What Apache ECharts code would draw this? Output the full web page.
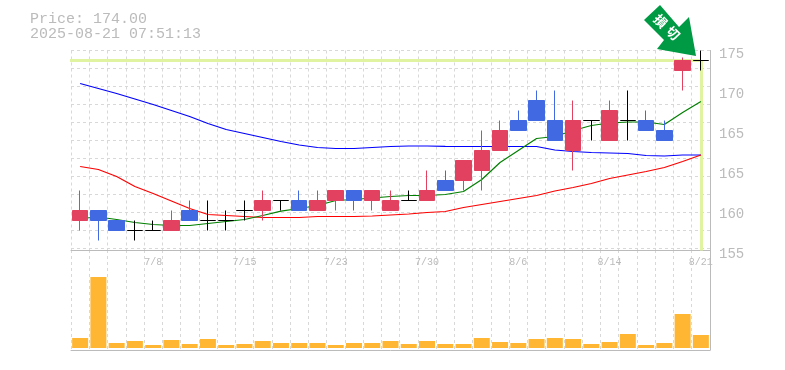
<!DOCTYPE html>
<html>
<head>
<meta charset="utf-8">
<style>html,body{margin:0;padding:0;background:#fff}#c{width:785px;height:370px}</style>
<script src="https://cdn.jsdelivr.net/npm/echarts@6/dist/echarts.min.js"></script>
</head>
<body>
<div id="c"></div>
<script>
const dates = ['7/2','7/3','7/4','7/7','7/8','7/9','7/10','7/11','7/14','7/15','7/16','7/17','7/18','7/22','7/23','7/24','7/25','7/28','7/29','7/30','7/31','8/1','8/4','8/5','8/6','8/7','8/8','8/12','8/13','8/14','8/15','8/18','8/19','8/20','8/21'];
const shownDates = ['7/8','7/15','7/23','7/30','8/6','8/14','8/21'];
const priceTickLabels = {155:'155',159:'160',163:'165',167:'165',171:'170',175:'175'};
const opens  = [158,159,158,157,157,157,159,158,158,159,159,160,160,159,160,161,160,159,160,160,162,162,163,165,168,170,168,165,168,166,168,168,167,173,174];
const closes = [159,158,157,157,157,158,158,158,158,159,160,160,159,160,161,160,161,160,160,161,161,164,165,167,167,168,166,168,168,169,168,167,166,174,174];
const lows   = [157,156,157,156,157,157,158,157,157,158,158,159,159,159,159,159,159,159,160,160,161,161,161,165,167,168,166,163,166,166,166,167,166,171,173];
const highs  = [161,159,158,158,158,159,160,160,159,160,161,160,161,161,161,161,161,161,161,163,163,164,167,168,169,171,171,170,168,170,171,169,168,174.3,175];
const ma5  = [158.2,158.35,158.1,157.8,157.6,157.5,157.5,157.7,157.9,158.1,158.5,158.93,159.2,159.5,160,160.1,160.25,160.4,160.5,160.5,160.6,160.9,162.1,163.8,165,166.2,166.4,167,167.5,167.75,167.85,167.85,167.6,168.8,169.9];
const ma25 = [163.4,163.1,162.4,161.4,160.7,159.95,159.2,158.6,158.5,158.4,158.3,158.3,158.3,158.4,158.4,158.4,158.45,158.55,158.65,158.8,158.9,159.3,159.6,159.9,160.2,160.5,160.95,161.3,161.7,162.2,162.55,162.9,163.3,163.9,164.55];
const ma75 = [171.7,171.2,170.7,170.15,169.6,169,168.4,167.7,167.1,166.7,166.3,165.9,165.55,165.3,165.2,165.2,165.3,165.4,165.45,165.45,165.42,165.4,165.4,165.4,165.4,165.4,165.05,164.9,164.8,164.75,164.7,164.5,164.45,164.55,164.55];
const volumes = [10,71,5,7,3,8,4,9,3,4,7,5,5,5,3,5,5,7,4,7,4,4,10,6,5,9,10,9,4,6,14,3,5,34,13];
const lastPrice = 174;
const titleLines = ['Price: 174.00','2025-08-21 07:51:13'];
const markerChars = ['損','切'];

const MONO = '"Liberation Mono", monospace';
const GRAY = '#bbbbbb';
const GRID = '#d8d8d8';
const chart = echarts.init(document.getElementById('c'), null, {renderer:'canvas'});
const candleData = dates.map((d,i)=>[opens[i],closes[i],lows[i],highs[i]]);
const lineSeries = (name,data,color,width)=>({name,type:'line',data,xAxisIndex:0,yAxisIndex:0,symbol:'none',smooth:false,z:3,silent:true,animation:false,lineStyle:{color,width}});
const dashSplit = {show:true,interval:0,lineStyle:{color:GRID,type:[3,3],width:1}};

chart.setOption({
  animation:false,
  backgroundColor:'#fff',
  title:[
    {text:titleLines[0],left:25,top:7,textStyle:{fontFamily:MONO,fontSize:15,fontWeight:'normal',color:GRAY}},
    {text:titleLines[1],left:25,top:22,textStyle:{fontFamily:MONO,fontSize:15,fontWeight:'normal',color:GRAY}}
  ],
  grid:[
    {left:71,top:50.5,width:639,height:200,containLabel:false},
    {left:71,top:250,width:639,height:100,containLabel:false}
  ],
  xAxis:[
    {type:'category',gridIndex:0,data:dates,boundaryGap:true,
     axisLine:{show:true,onZero:false,lineStyle:{color:GRAY,width:1}},axisTick:{show:false},
     axisLabel:{show:true,interval:0,margin:7,fontFamily:MONO,fontSize:10,color:GRAY,hideOverlap:false,
       formatter:v=>shownDates.includes(v)?v:''},
     splitLine:dashSplit},
    {type:'category',gridIndex:1,data:dates,boundaryGap:true,
     axisLine:{show:true,onZero:false,lineStyle:{color:GRAY,width:1}},axisTick:{show:false},axisLabel:{show:false},
     splitLine:dashSplit}
  ],
  yAxis:[
    {type:'value',gridIndex:0,position:'right',min:155,max:175,interval:4,scale:true,
     axisLine:{show:true,lineStyle:{color:GRAY,width:1}},axisTick:{show:false},
     axisLabel:{show:true,margin:9,fontFamily:MONO,fontSize:14,color:GRAY,verticalAlign:'top',lineHeight:14,padding:[-3,0,0,0],formatter:v=>priceTickLabels[v]},
     splitLine:{show:false}},
    {type:'value',gridIndex:0,position:'left',inverse:true,min:0,max:20,interval:1.8,
     axisLine:{show:false},axisTick:{show:false},axisLabel:{show:false},
     splitLine:{show:true,lineStyle:{color:GRID,type:[3,3],width:1}}},
    {type:'value',gridIndex:1,position:'right',min:-2,max:98,
     axisLine:{show:true,onZero:false,lineStyle:{color:GRAY,width:1}},axisTick:{show:false},axisLabel:{show:false},splitLine:{show:false}}
  ],
  series:[
    {name:'price line',type:'line',data:[],xAxisIndex:0,yAxisIndex:0,z:2,silent:true,
     markLine:{silent:true,symbol:'none',animation:false,z:2,label:{show:false},
       lineStyle:{color:'#dff3a0',width:3,type:'solid'},
       data:[
         [{x:70,yAxis:lastPrice},{xAxis:dates.length-1,yAxis:lastPrice}],
         [{xAxis:dates.length-1,yAxis:lastPrice},{xAxis:dates.length-1,yAxis:155}]
       ]}},
    lineSeries('MA75',ma75,'#0000ff',1.2),
    lineSeries('MA25',ma25,'#ff0000',1.2),
    lineSeries('MA5',ma5,'#007f00',1.2),
    {name:'price',type:'candlestick',xAxisIndex:0,yAxisIndex:0,data:candleData,barWidth:16,z:5,silent:true,
     itemStyle:{color:'#e2425f',color0:'#416ae2',borderColor:'#e2425f',borderColor0:'#416ae2',borderColorDoji:'#000000',borderWidth:1}},
    {name:'volume',type:'bar',xAxisIndex:1,yAxisIndex:2,data:volumes,barWidth:16,z:5,silent:true,
     itemStyle:{color:'#ffb733'}}
  ],
  graphic:[
    {type:'polygon',silent:true,z:20,
     shape:{points:[[660,5],[644,20],[664,40],[657,49],[696,56],[689,17],[679,27]]},
     style:{fill:'#009944'}},
    {type:'text',silent:true,z:21,x:660.5,y:21,rotation:-Math.PI/4,
     style:{text:markerChars[0],fill:'#fff',font:'bold 13px "Noto Sans CJK JP"',align:'center',verticalAlign:'middle'}},
    {type:'text',silent:true,z:21,x:673,y:33,rotation:-Math.PI/4,
     style:{text:markerChars[1],fill:'#fff',font:'bold 13px "Noto Sans CJK JP"',align:'center',verticalAlign:'middle'}}
  ]
});
</script>
</body>
</html>
